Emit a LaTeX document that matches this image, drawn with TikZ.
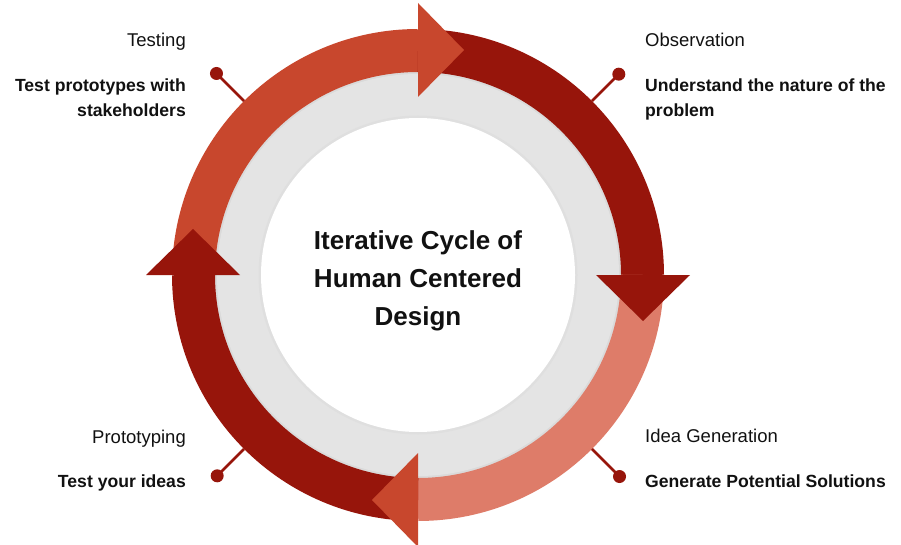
\documentclass[tikz,border=0pt]{standalone}
\usepackage{fontspec}
\setmainfont{Liberation Sans}
\usetikzlibrary{calc}
\definecolor{cOrange}{HTML}{C8472D}
\definecolor{cDark}{HTML}{97150B}
\definecolor{cSalmon}{HTML}{DE7C69}
\definecolor{cGray}{HTML}{E4E4E4}
\definecolor{cShadow}{HTML}{DADADA}
\definecolor{cText}{HTML}{111111}
\begin{document}
\begin{tikzpicture}[x=1pt,y=1pt,
  band/.style={line width=43pt},
  pinline/.style={draw=cDark, line width=2.8pt},
  pindot/.style={circle, fill=cDark, minimum size=13pt, inner sep=0pt},
  phase/.style={font=\fontsize{18.5}{25}\selectfont, text=cText, inner sep=0pt},
  desc/.style={font=\fontsize{17.6}{25}\selectfont\bfseries, text=cText, inner sep=0pt},
  title/.style={font=\fontsize{26}{38}\selectfont\bfseries, text=cText, align=center, inner sep=0pt}]
\useasboundingbox (0,0) rectangle (901,544);
\coordinate (c) at (418,269);
% grey ring with soft shadow
\fill[cShadow] (c) circle[radius=205];
\fill[cGray] (c) circle[radius=201];
\fill[cShadow!50!cGray] (c) circle[radius=159.5];
\fill[white] (c) circle[radius=157];
% bands
\draw[band, cOrange] ($(c)+(180:224.5)$) arc[start angle=180, end angle=90, radius=224.5];
\draw[band, cDark] ($(c)+(90:224.5)$) arc[start angle=90, end angle=0, radius=224.5];
\draw[band, cSalmon] ($(c)+(0:224.5)$) arc[start angle=0, end angle=-90, radius=224.5];
\draw[band, cDark] ($(c)+(270:224.5)$) arc[start angle=270, end angle=180, radius=224.5];
% arrow heads
\fill[cOrange] ($(c)+(90:272)$) -- ($(c)+(90:178)$) -- ($(c)+(46,225)$) -- cycle;
\fill[cDark] ($(c)+(0:272)$) -- ($(c)+(0:178)$) -- ($(c)+(225,-46)$) -- cycle;
\fill[cOrange] ($(c)+(270:272)$) -- ($(c)+(270:178)$) -- ($(c)+(-46,-225)$) -- cycle;
\fill[cDark] ($(c)+(180:272)$) -- ($(c)+(180:178)$) -- ($(c)+(-225,46)$) -- cycle;
% pins
\coordinate (e1) at ($(c)+(135:246)$);
\coordinate (e2) at ($(c)+(45:246)$);
\coordinate (e3) at ($(c)+(-45:246)$);
\coordinate (e4) at ($(c)+(225:246)$);
\node[pindot] (d1) at ($(c)+(135:285)$) {};
\node[pindot] (d2) at ($(c)+(45:284)$) {};
\node[pindot] (d3) at ($(c)+(-45:285)$) {};
\node[pindot] (d4) at ($(c)+(225:284)$) {};
\draw[pinline] (e1) -- (d1.center);
\draw[pinline] (e2) -- (d2.center);
\draw[pinline] (e3) -- (d3.center);
\draw[pinline] (e4) -- (d4.center);
% title
\node[title] (t) at (418,263) {Iterative Cycle of\\Human Centered\\Design};
% labels
\node[phase, anchor=base east] (p1) at (186,497) {Testing};
\node[desc, anchor=base east] (q1) at (186,452) {Test prototypes with};
\node[desc, anchor=base east] (q1b) at (186,427) {stakeholders};
\node[phase, anchor=base west] (p2) at (645,497) {Observation};
\node[desc, anchor=base west] (q2) at (645,452) {Understand the nature of the};
\node[desc, anchor=base west] (q2b) at (645,427) {problem};
\node[phase, anchor=base east] (p4) at (186,101) {Prototyping};
\node[desc, anchor=base east] (q4) at (186,57) {Test your ideas};
\node[phase, anchor=base west] (p3) at (645,102) {Idea Generation};
\node[desc, anchor=base west] (q3) at (645,57) {Generate Potential Solutions};
\end{tikzpicture}
\end{document}
